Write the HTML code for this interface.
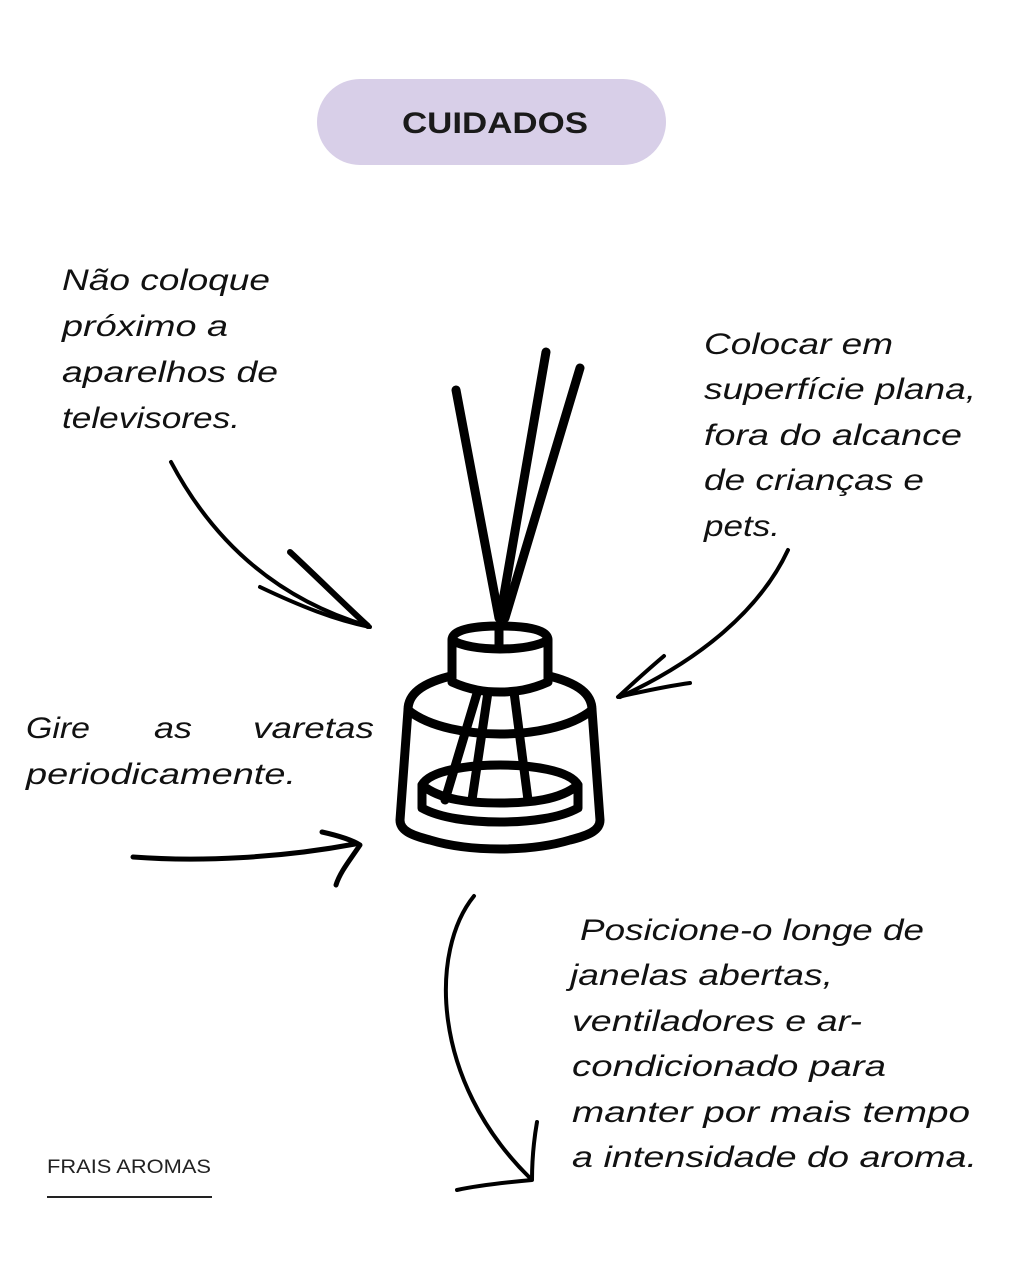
<!DOCTYPE html>
<html><head><meta charset="utf-8"><style>
html,body{margin:0;padding:0;background:#fff;}
svg{display:block}
.t{font-family:"Liberation Sans",sans-serif;font-style:italic;font-size:30px;fill:#111;}
</style></head><body>
<svg width="1024" height="1280" viewBox="0 0 1024 1280" xmlns="http://www.w3.org/2000/svg">
<rect x="317" y="79" width="349" height="86" rx="43" fill="#d8cfe8"/>
<text x="495" y="133" text-anchor="middle" font-family="Liberation Sans,sans-serif" font-weight="bold" font-size="30" fill="#1a1a1a" textLength="186" lengthAdjust="spacingAndGlyphs">CUIDADOS</text>

<g class="t">
<text x="62" y="290" textLength="208" lengthAdjust="spacingAndGlyphs">Não coloque</text>
<text x="62" y="336" textLength="166" lengthAdjust="spacingAndGlyphs">próximo a</text>
<text x="62" y="382" textLength="216" lengthAdjust="spacingAndGlyphs">aparelhos de</text>
<text x="62" y="428" textLength="178" lengthAdjust="spacingAndGlyphs">televisores.</text>

<text x="704" y="354" textLength="189" lengthAdjust="spacingAndGlyphs">Colocar em</text>
<text x="704" y="399" textLength="272" lengthAdjust="spacingAndGlyphs">superfície plana,</text>
<text x="704" y="445" textLength="258" lengthAdjust="spacingAndGlyphs">fora do alcance</text>
<text x="704" y="490" textLength="220" lengthAdjust="spacingAndGlyphs">de crianças e</text>
<text x="704" y="536" textLength="76" lengthAdjust="spacingAndGlyphs">pets.</text>

<text x="26" y="738" textLength="64" lengthAdjust="spacingAndGlyphs">Gire</text>
<text x="154" y="738" textLength="38" lengthAdjust="spacingAndGlyphs">as</text>
<text x="253" y="738" textLength="121" lengthAdjust="spacingAndGlyphs">varetas</text>
<text x="26" y="784" textLength="270" lengthAdjust="spacingAndGlyphs">periodicamente.</text>

<text x="580" y="940" textLength="344" lengthAdjust="spacingAndGlyphs">Posicione-o longe de</text>
<text x="570" y="985" textLength="263" lengthAdjust="spacingAndGlyphs">janelas abertas,</text>
<text x="572" y="1031" textLength="290" lengthAdjust="spacingAndGlyphs">ventiladores e ar-</text>
<text x="572" y="1076" textLength="314" lengthAdjust="spacingAndGlyphs">condicionado para</text>
<text x="572" y="1122" textLength="398" lengthAdjust="spacingAndGlyphs">manter por mais tempo</text>
<text x="572" y="1167" textLength="405" lengthAdjust="spacingAndGlyphs">a intensidade do aroma.</text>
</g>

<text x="47" y="1173" font-family="Liberation Sans,sans-serif" font-size="19" fill="#222" textLength="164" lengthAdjust="spacingAndGlyphs">FRAIS AROMAS</text>
<line x1="47" y1="1197" x2="212" y2="1197" stroke="#222" stroke-width="2"/>

<g fill="none" stroke="#000" stroke-linecap="round" stroke-linejoin="round">
<!-- arrow 1 -->
<path d="M171 462 C215 545 280 600 368 626" stroke-width="4"/>
<path d="M260 587 C300 606 335 620 370 627" stroke-width="4"/>
<path d="M290 552 C320 580 345 605 368 626" stroke-width="6"/>
<!-- arrow 2 -->
<path d="M788 550 C760 610 700 660 620 697" stroke-width="4"/>
<path d="M664 656 C645 672 630 686 618 697 C640 692 668 686 690 683" stroke-width="4"/>
<!-- arrow 3 -->
<path d="M133 857 C200 862 280 858 355 844" stroke-width="5"/>
<path d="M322 832 C340 836 352 840 360 845 C350 860 340 872 336 885" stroke-width="5"/>
<!-- arrow 4 -->
<path d="M474 896 C430 950 430 1080 530 1178" stroke-width="4"/>
<path d="M537 1122 C533 1145 532 1162 532 1180 C510 1182 480 1185 457 1190" stroke-width="4"/>

<!-- diffuser sticks -->
<g stroke-width="9">
<line x1="456" y1="390" x2="499" y2="618"/>
<line x1="546" y1="352" x2="500" y2="618"/>
<line x1="580" y1="368" x2="505" y2="618"/>
<line x1="478" y1="690" x2="445" y2="800"/>
<line x1="488" y1="692" x2="472" y2="800"/>
<line x1="514" y1="692" x2="528" y2="800"/>
</g>
<g stroke-width="9">
<!-- bottle -->
<path d="M455 675 C420 683 408 695 408 710 L400 820 C400 830 410 835 430 840 C470 852 530 852 570 840 C590 835 600 830 600 820 L592 710 C592 695 580 683 545 675"/>
<path d="M408 710 C430 728 470 734 500 734 C530 734 570 728 592 710"/>
<!-- liquid -->
<path d="M422 785 C430 770 470 765 500 765 C530 765 570 770 578 785 L578 808 C560 818 530 822 500 822 C470 822 440 818 422 808 Z"/>
<path d="M422 785 C440 800 470 803 500 803 C530 803 560 800 578 785"/>
<!-- cap -->
<path d="M452 640 C452 628 480 626 500 626 C520 626 548 628 548 640 L548 682 C530 690 515 692 500 692 C485 692 470 690 452 682 Z" fill="#fff"/>
<path d="M452 640 C470 652 530 652 548 640"/>
</g>
<line x1="499" y1="626" x2="499" y2="648" stroke-width="9"/>
</g>
</svg>
</body></html>
